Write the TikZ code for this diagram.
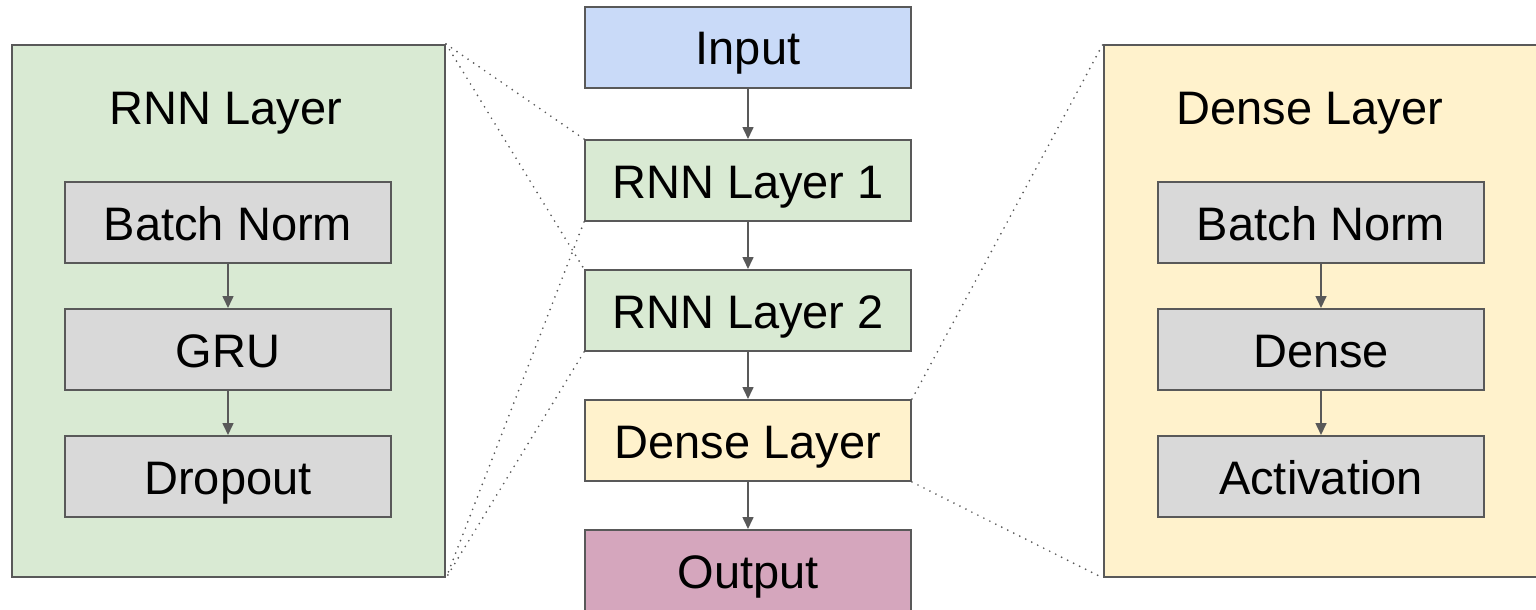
\documentclass[tikz,border=0pt]{standalone}
\usepackage{fontspec}
\setmainfont{Liberation Sans}
\usetikzlibrary{arrows.meta}
\definecolor{edge}{HTML}{595959}
\definecolor{inblue}{HTML}{C9DAF8}
\definecolor{rnngreen}{HTML}{D9EAD3}
\definecolor{denseyellow}{HTML}{FFF2CC}
\definecolor{outpink}{HTML}{D5A6BD}
\definecolor{opgrey}{HTML}{D9D9D9}
\tikzset{
  label text/.style={font=\fontsize{47}{56}\selectfont, text height=35pt, text depth=0pt},
  layerbox/.style={label text, draw=edge, line width=2pt, minimum width=326pt, minimum height=81pt,
    inner sep=0pt},
  panel/.style={draw=edge, line width=2pt, minimum width=433pt, minimum height=532pt, inner sep=0pt},
  paneltitle/.style={label text, inner sep=0pt},
  flow/.style={draw=edge, line width=1.6pt, -{Triangle[width=11pt,length=12pt]}},
  zoomline/.style={draw=edge, line width=1.9pt, line cap=round, dash pattern=on 0pt off 6.7pt}
}
\begin{document}
\begin{tikzpicture}[x=1pt, y=-1pt]
\useasboundingbox (0,0) rectangle (1536,610);

% main pipeline
\node[layerbox, fill=inblue] (input) at (748,47.5) {Input};
\node[layerbox, fill=rnngreen] (rnn1) at (748,180.5) {RNN Layer 1};
\node[layerbox, fill=rnngreen] (rnn2) at (748,310.5) {RNN Layer 2};
\node[layerbox, fill=denseyellow] (dense) at (748,440.5) {Dense Layer};
\node[layerbox, fill=outpink, minimum height=82pt] (output) at (748,571) {Output};

\draw[flow] (input) -- (rnn1);
\draw[flow] (rnn1) -- (rnn2);
\draw[flow] (rnn2) -- (dense);
\draw[flow] (dense) -- (output);

% RNN layer detail
\node[panel, fill=rnngreen] (rnnpanel) at (228.5,311) {};
\node[paneltitle] (rnntitle) at (226,107) {RNN Layer};
\node[layerbox, fill=opgrey] (rbn) at (228,222.5) {Batch Norm};
\node[layerbox, fill=opgrey] (gru) at (228,349.5) {GRU};
\node[layerbox, fill=opgrey] (drop) at (228,476.5) {Dropout};
\draw[flow] (rbn) -- (gru);
\draw[flow] (gru) -- (drop);

% Dense layer detail
\node[panel, fill=denseyellow, minimum width=434pt] (densepanel) at (1321,311) {};
\node[paneltitle] (densetitle) at (1310,107) {Dense Layer};
\node[layerbox, fill=opgrey] (dbn) at (1321,222.5) {Batch Norm};
\node[layerbox, fill=opgrey] (dlin) at (1321,349.5) {Dense};
\node[layerbox, fill=opgrey] (act) at (1321,476.5) {Activation};
\draw[flow] (dbn) -- (dlin);
\draw[flow] (dlin) -- (act);

% zoom guides
\draw[zoomline] (rnnpanel.north east) -- (rnn1.north west);
\draw[zoomline] (rnnpanel.north east) -- (rnn2.north west);
\draw[zoomline] (rnn1.south west) -- (rnnpanel.south east);
\draw[zoomline] (rnn2.south west) -- (rnnpanel.south east);
\draw[zoomline] (dense.north east) -- (densepanel.north west);
\draw[zoomline] (dense.south east) -- (densepanel.south west);
\end{tikzpicture}
\end{document}
